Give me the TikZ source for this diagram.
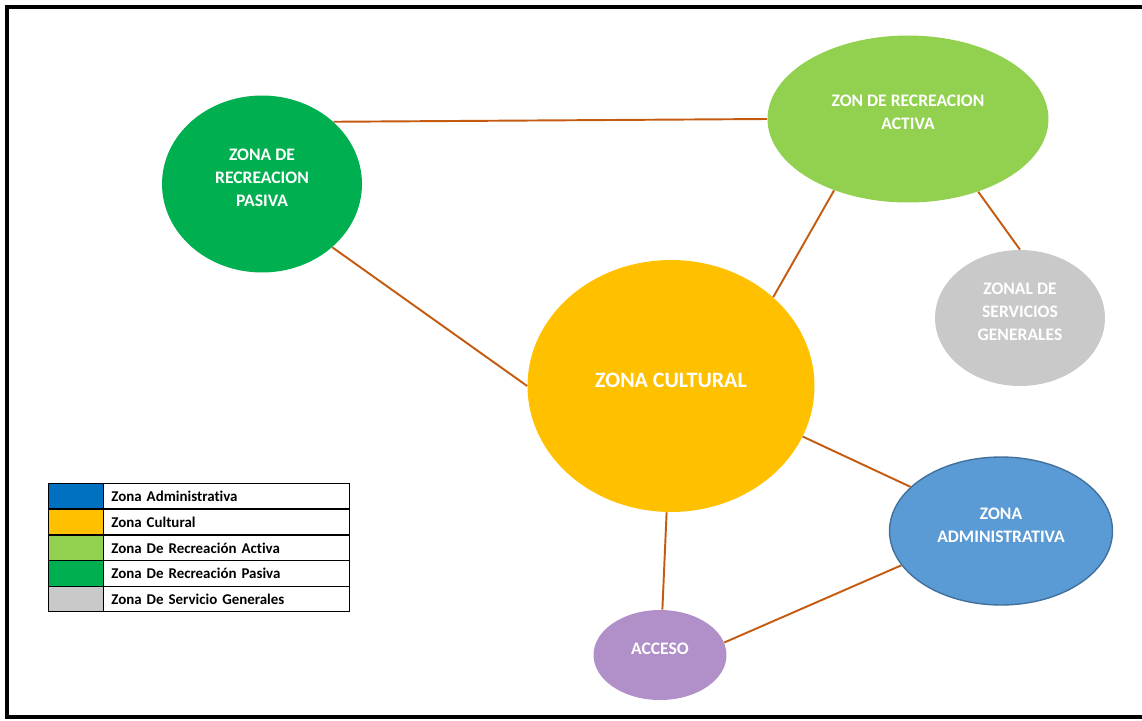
\documentclass[tikz,border=0pt]{standalone}
\usepackage{fontspec}
\setmainfont{Carlito}[Ligatures=NoCommon]
\usepackage{xcolor}
\usepackage{tikz}
\usetikzlibrary{positioning, shapes.geometric}
\definecolor{pasgreen}{RGB}{0,176,80}
\definecolor{actgreen}{RGB}{146,208,80}
\definecolor{servgray}{RGB}{201,201,201}
\definecolor{cultyellow}{RGB}{255,192,0}
\definecolor{admblue}{RGB}{91,155,213}
\definecolor{admedge}{RGB}{65,113,156}
\definecolor{legblue}{RGB}{0,112,192}
\definecolor{accpurple}{RGB}{177,144,201}
\definecolor{linkorange}{RGB}{197,90,17}

\begin{document}
\begin{tikzpicture}[x=0.02cm, y=-0.02cm,
  zone/.style={ellipse, inner sep=0pt, align=center, text=white,
               font=\fontsize{10}{13}\selectfont\bfseries},
  link/.style={draw=linkorange, line width=1.1pt},
  swatch/.style={rectangle, draw=black, line width=0.5pt, inner sep=0pt,
                 minimum width=1.1cm, minimum height=0.512cm},
  legtext/.style={rectangle, draw=black, line width=0.5pt, inner sep=0pt,
                  minimum width=4.92cm, minimum height=0.512cm,
                  text width=4.62cm, align=left,
                  font=\fontsize{8.5}{10}\selectfont\bfseries}
]
\useasboundingbox (0,0) rectangle (1142,720);

% Frame
\draw[line width=1.8pt] (1142,7) -- (7,7) -- (7,717) -- (1142,717);

% Zones
\node[zone, fill=pasgreen, minimum width=4cm, minimum height=3.54cm]
  (pasiva) at (262,184) {ZONA DE\\RECREACION\\PASIVA\\[-6pt]};
\node[zone, fill=actgreen, minimum width=5.62cm, minimum height=3.34cm]
  (activa) at (908,119) {ZON DE RECREACION\\ACTIVA\\[-5pt]};
\node[zone, fill=servgray, minimum width=3.4cm, minimum height=2.72cm]
  (servicios) at (1020,318) {ZONAL DE\\SERVICIOS\\GENERALES\\[-6pt]};
\node[zone, fill=cultyellow, minimum width=5.74cm, minimum height=5.04cm,
      font=\fontsize{12.5}{15}\selectfont\bfseries]
  (cultural) at (671,386) {ZONA CULTURAL\\[-8pt]};
\node[zone, fill=admblue, draw=admedge, line width=0.8pt,
      minimum width=4.46cm, minimum height=2.96cm]
  (admin) at (1001,531) {ZONA\\ADMINISTRATIVA\\[-6pt]};
\node[zone, fill=accpurple, minimum width=2.66cm, minimum height=1.8cm]
  (acceso) at (660,655) {ACCESO\\[-6pt]};

% Links
\draw[link] (pasiva.41)    -- (activa.180);
\draw[link] (pasiva.-42)   -- (cultural.180);
\draw[link] (activa.224)   -- (cultural.41);
\draw[link] (activa.-46)   -- (servicios.90);
\draw[link] (cultural.-21) -- (admin.154);
\draw[link] (cultural.268) -- (acceso.87);
\draw[link] (acceso.11)    -- (admin.199);

% Legend
\node[swatch, fill=legblue]    (sw1) at (75.5,496)   {};
\node[swatch, fill=cultyellow] (sw2) at (75.5,522)   {};
\node[swatch, fill=actgreen]   (sw3) at (75.5,548)   {};
\node[swatch, fill=pasgreen]   (sw4) at (75.5,573.5) {};
\node[swatch, fill=servgray]   (sw5) at (75.5,599)   {};
\node[legtext, right=0pt of sw1] (lg1) {Zona Administrativa};
\node[legtext, right=0pt of sw2] (lg2) {Zona Cultural};
\node[legtext, right=0pt of sw3] (lg3) {Zona De Recreación Activa};
\node[legtext, right=0pt of sw4] (lg4) {Zona De Recreación Pasiva};
\node[legtext, right=0pt of sw5] (lg5) {Zona De Servicio Generales};

\end{tikzpicture}
\end{document}
